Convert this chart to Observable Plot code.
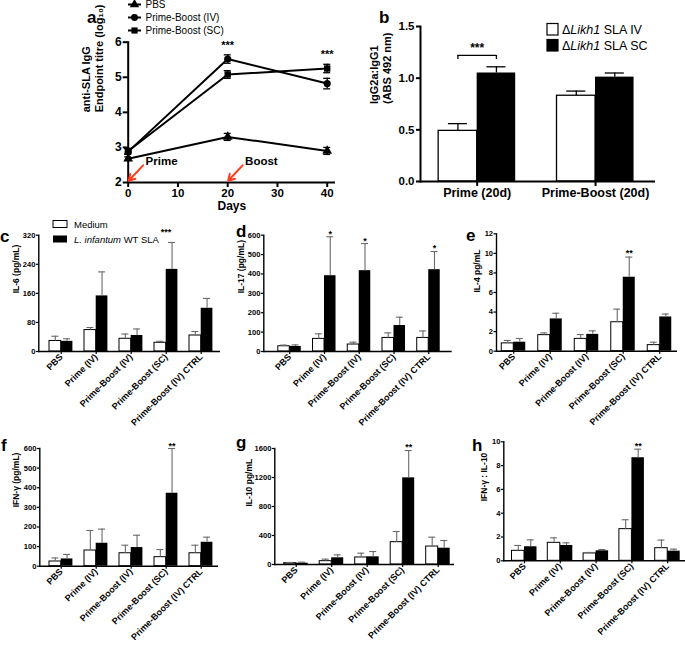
<!DOCTYPE html>
<html><head><meta charset="utf-8">
<script src="https://cdn.jsdelivr.net/npm/d3@7"></script>
<script src="https://cdn.jsdelivr.net/npm/@observablehq/plot@0.6"></script>
<style>
body{margin:0;background:#fff;}
#fig{position:relative;width:685px;height:645px;overflow:hidden;background:#fff;font-family:"Liberation Sans",Arial,Helvetica,sans-serif;}
</style></head><body><div id="fig"></div>
<script>
// ---------- Panel a data ----------
const aDays = [0, 20, 40];
const aSeries = ["PBS", "Prime-Boost (IV)", "Prime-Boost (SC)"];
const aPBS = [2.68, 3.30, 2.90];
const aPBSErr = [0.05, 0.10, 0.10];
const aIV = [2.88, 5.52, 4.82];
const aIVErr = [0.08, 0.12, 0.15];
const aSC = [2.90, 5.08, 5.25];
const aSCErr = [0.07, 0.11, 0.12];
const aSig = ["", "***", "***"];
const aEvents = ["Prime", "Boost"];
const aEventDays = [0, 20];
const aXTicks = [0, 10, 20, 30, 40];
const aYTicks = [2, 3, 4, 5, 6];

// ---------- Panel b data ----------
const bGroups = ["Prime (20d)", "Prime-Boost (20d)"];
const bIV = [0.49, 0.83];
const bIVErr = [0.07, 0.045];
const bSC = [1.05, 1.01];
const bSCErr = [0.06, 0.04];
const bYTicks = [0, 0.5, 1.0, 1.5];
const bSig = "***";

// ---------- Panels c-h data ----------
const groups = ["PBS", "Prime (IV)", "Prime-Boost (IV)", "Prime-Boost (SC)", "Prime-Boost (IV) CTRL"];

const il6Medium = [29, 59, 35, 24, 44];
const il6MediumErr = [13, 7, 13, 4, 11];
const il6SLA = [28, 153, 44, 226, 119];
const il6SLAErr = [7, 66, 18, 74, 27];
const il6Sig = ["", "", "", "***", ""];
const il6Ticks = [0, 80, 160, 240, 320];

const il17Medium = [27, 65, 36, 70, 70];
const il17MediumErr = [6, 26, 12, 26, 36];
const il17SLA = [26, 391, 417, 134, 422];
const il17SLAErr = [8, 201, 140, 43, 94];
const il17Sig = ["", "*", "*", "", "*"];
const il17Ticks = [0, 100, 200, 300, 400, 500, 600];

const il4Medium = [0.80, 1.64, 1.26, 2.96, 0.62];
const il4MediumErr = [0.30, 0.23, 0.44, 1.34, 0.30];
const il4SLA = [0.92, 3.30, 1.72, 7.56, 3.50];
const il4SLAErr = [0.38, 0.58, 0.36, 2.06, 0.30];
const il4Sig = ["", "", "", "**", ""];
const il4Ticks = [0, 2, 4, 6, 8, 10, 12];

const ifnMedium = [24, 80, 66, 46, 66];
const ifnMediumErr = [18, 102, 41, 39, 41];
const ifnSLA = [37, 117, 95, 372, 122];
const ifnSLAErr = [23, 72, 63, 228, 26];
const ifnSig = ["", "", "", "**", ""];
const ifnTicks = [0, 100, 200, 300, 400, 500, 600];

const il10Medium = [18, 46, 97, 308, 248];
const il10MediumErr = [10, 28, 59, 147, 129];
const il10SLA = [18, 92, 106, 1195, 225];
const il10SLAErr = [14, 41, 73, 377, 106];
const il10Sig = ["", "", "", "**", ""];
const il10Ticks = [0, 400, 800, 1200, 1600];

const ratioMedium = [0.84, 1.51, 0.62, 2.66, 1.06];
const ratioMediumErr = [0.45, 0.42, 0.08, 0.79, 0.68];
const ratioSLA = [1.18, 1.29, 0.84, 8.66, 0.81];
const ratioSLAErr = [0.58, 0.22, 0.11, 0.72, 0.17];
const ratioSig = ["", "", "", "**", ""];
const ratioTicks = [0, 2, 4, 6, 8, 10];

// ---------- drawing ----------
const FONT = '"Liberation Sans", Arial, Helvetica, sans-serif';
const STYLE = {background: "transparent", overflow: "visible", fontFamily: FONT, color: "black"};
const fig = document.getElementById("fig");
function place(svg, left, top) {
  svg.style.position = "absolute";
  svg.style.left = left + "px";
  svg.style.top = top + "px";
  fig.appendChild(svg);
}

// Panel a
const aRows = [];
[[aPBS, aPBSErr], [aIV, aIVErr], [aSC, aSCErr]].forEach(([v, e], k) =>
  aDays.forEach((d, i) => aRows.push({series: aSeries[k], day: d, v: v[i], e: e[i]})));
const aStars = aDays.map((d, i) => ({day: d, sig: aSig[i],
  top: d3.max(aRows.filter(r => r.day === d), r => r.v + r.e)})).filter(d => d.sig);
const aEv = aEvents.map((label, i) => ({label, day: aEventDays[i]}));

place(Plot.plot({
  width: 345, height: 212, marginLeft: 127.7, marginRight: 10, marginTop: 41.7, marginBottom: 30,
  style: STYLE,
  x: {domain: [0, 40], range: [127.7, 326.7]},
  y: {domain: [2, 6], range: [182, 41.7]},
  symbol: {domain: aSeries, range: ["triangle", "circle", "square"]},
  marks: [
    Plot.ruleX(aRows, {x: "day", y1: d => d.v - d.e, y2: d => d.v + d.e, strokeWidth: 1.3}),
    Plot.ruleY(aRows, {y: d => d.v + d.e, x1: d => d.day - 0.7, x2: d => d.day + 0.7, strokeWidth: 1.3}),
    Plot.ruleY(aRows, {y: d => d.v - d.e, x1: d => d.day - 0.7, x2: d => d.day + 0.7, strokeWidth: 1.3}),
    Plot.line(aRows, {x: "day", y: "v", z: "series", strokeWidth: 2}),
    Plot.dot(aRows, {x: "day", y: "v", symbol: "series", fill: "black", stroke: "none", r: 3.6}),
    Plot.ruleY([2], {strokeWidth: 2}),
    Plot.frame({anchor: "left", strokeWidth: 2}),
    Plot.axisX(aXTicks, {tickSize: 5, tickPadding: 1, fontSize: 11.5, fontWeight: "bold", label: null, strokeWidth: 2}),
    Plot.axisY(aYTicks, {tickSize: 5, tickPadding: 1.5, fontSize: 12, fontWeight: "bold", label: null, strokeWidth: 2}),
    Plot.text(["Days"], {frameAnchor: "bottom", dy: 27, fontSize: 12, fontWeight: "bold"}),
    Plot.text(["anti-SLA IgG\nEndpoint titre (log\u2081\u2080)"], {frameAnchor: "left", rotate: -90, dx: -36, fontSize: 11, fontWeight: "bold", lineHeight: 1.2}),
    Plot.text(aStars, {x: "day", y: "top", text: "sig", dy: -6, lineAnchor: "bottom", fontSize: 11, fontWeight: "bold"}),
    Plot.arrow(aEv, {x1: d => d.day + 3, y1: () => 2.49, x2: d => d.day + 0.1, y2: () => 2.05, stroke: "#ff3c1e", strokeWidth: 2, headLength: 7}),
    Plot.text(aEv, {x: d => d.day + 3.5, y: () => 2.6, text: "label", textAnchor: "start", fontSize: 11.5, fontWeight: "bold"})
  ]
}), 0, 0);

// Panel b
{
  const rows = bGroups.map((g, i) => ({g, iv: bIV[i], ivErr: bIVErr[i], sc: bSC[i], scErr: bSCErr[i]}));
  const S = 118.3, W = 38.5, C = 19, half = S / 2;
  place(Plot.plot({
    width: 345, height: 210, marginLeft: 80, marginRight: 30, marginTop: 26, marginBottom: 29,
    style: STYLE,
    x: {type: "band", domain: bGroups, range: [77.5, 314.2], padding: 0, round: false},
    y: {domain: [0, 1.5], range: [181, 26]},
    marks: [
      Plot.ruleX(rows, {x: "g", y1: "iv", y2: d => d.iv + d.ivErr, dx: -W / 2, strokeWidth: 1.3}),
      Plot.tickY(rows, {x: "g", y: d => d.iv + d.ivErr, insetLeft: half - W / 2 - C / 2, insetRight: half + W / 2 - C / 2, strokeWidth: 1.3}),
      Plot.ruleX(rows, {x: "g", y1: "sc", y2: d => d.sc + d.scErr, dx: W / 2, strokeWidth: 1.3}),
      Plot.tickY(rows, {x: "g", y: d => d.sc + d.scErr, insetLeft: half + W / 2 - C / 2, insetRight: half - W / 2 - C / 2, strokeWidth: 1.3}),
      Plot.barY(rows, {x: "g", y1: 0, y2: "iv", fill: "white", stroke: "black", strokeWidth: 1.3, insetLeft: half - W, insetRight: half}),
      Plot.barY(rows, {x: "g", y1: 0, y2: "sc", fill: "black", insetLeft: half, insetRight: half - W}),
      Plot.tickY([bGroups[0]], {x: d => d, y: () => 1.22, insetLeft: half - W / 2, insetRight: half - W / 2, strokeWidth: 1.3}),
      Plot.ruleX([bGroups[0]], {x: d => d, y1: () => 1.18, y2: () => 1.22, dx: -W / 2, strokeWidth: 1.3}),
      Plot.ruleX([bGroups[0]], {x: d => d, y1: () => 1.18, y2: () => 1.22, dx: W / 2, strokeWidth: 1.3}),
      Plot.text([bSig], {x: () => bGroups[0], y: () => 1.22, dy: -3, lineAnchor: "bottom", fontSize: 12, fontWeight: "bold"}),
      Plot.ruleY([0], {strokeWidth: 2}),
      Plot.frame({anchor: "left", strokeWidth: 2}),
      Plot.axisY(bYTicks, {tickFormat: d3.format(".1f"), tickSize: 4, tickPadding: 2, fontSize: 11.5, fontWeight: "bold", label: null, strokeWidth: 2}),
      Plot.axisX({tickSize: 5, tickPadding: 2, fontSize: 12.5, fontWeight: "bold", label: null, strokeWidth: 2}),
      Plot.text(["IgG2a:IgG1\n(ABS 492 nm)"], {frameAnchor: "left", rotate: -90, dx: -40, fontSize: 11, fontWeight: "bold", lineHeight: 1.2})
    ]
  }), 340, 0);
}

// Panels c-h
function barPanel(p) {
  const n = groups.length;
  const S = (p.range[1] - p.range[0]) / n, W = p.barW, C = 7, half = S / 2;
  const rows = groups.map((g, i) => ({g, med: p.med[i], medErr: p.medErr[i], sla: p.sla[i], slaErr: p.slaErr[i], sig: p.sig[i]}));
  const errColor = "#6a6a6a";
  place(Plot.plot({
    width: p.w, height: p.h, marginLeft: p.ml, marginRight: p.mr, marginTop: p.mt, marginBottom: p.h - p.y0,
    style: STYLE,
    x: {type: "band", domain: groups, range: p.range, padding: 0, round: false},
    y: {domain: [0, p.ticks[p.ticks.length - 1]], range: [p.y0, p.mt]},
    marks: [
      Plot.barY(rows, {x: "g", y1: 0, y2: "med", fill: "white", stroke: "black", strokeWidth: 1, insetLeft: half - W, insetRight: half}),
      Plot.barY(rows, {x: "g", y1: 0, y2: "sla", fill: "black", insetLeft: half, insetRight: half - W}),
      Plot.ruleX(rows, {x: "g", y1: "med", y2: d => d.med + d.medErr, dx: -W / 2, stroke: errColor, strokeWidth: 1.1}),
      Plot.tickY(rows, {x: "g", y: d => d.med + d.medErr, insetLeft: half - W / 2 - C / 2, insetRight: half + W / 2 - C / 2, stroke: errColor, strokeWidth: 1.1}),
      Plot.ruleX(rows, {x: "g", y1: "sla", y2: d => d.sla + d.slaErr, dx: W / 2, stroke: errColor, strokeWidth: 1.1}),
      Plot.tickY(rows, {x: "g", y: d => d.sla + d.slaErr, insetLeft: half + W / 2 - C / 2, insetRight: half - W / 2 - C / 2, stroke: errColor, strokeWidth: 1.1}),
      Plot.text(rows.filter(d => d.sig), {x: "g", y: d => d.sla + d.slaErr, text: "sig", dx: W / 2 + (p.starDx || 0), dy: p.starDy, lineAnchor: "bottom", fontSize: 9, fontWeight: "bold"}),
      Plot.ruleY([0], {strokeWidth: 1.4}),
      Plot.frame({anchor: "left", strokeWidth: 1.4}),
      Plot.axisY(p.ticks, {tickFormat: d3.format("d"), tickSize: 2.5, tickPadding: 1, fontSize: 7.5, fontWeight: "bold", label: null, strokeWidth: 1.2}),
      Plot.axisX({tickSize: 3, tickPadding: 1, tickRotate: -45, fontSize: 9, fontWeight: "bold", label: null, strokeWidth: 1.2}),
      Plot.text([p.title], {frameAnchor: "left", rotate: -90, dx: p.titleDx, fontSize: 8.5, fontWeight: "bold"})
    ]
  }), p.left, p.top);
}

barPanel({left: 0, top: 200, w: 228, h: 235, ml: 38.3, mr: 8, mt: 34.7, y0: 151, range: [43.2, 218.2], barW: 11.7,
  med: il6Medium, medErr: il6MediumErr, sla: il6SLA, slaErr: il6SLAErr, sig: il6Sig, ticks: il6Ticks,
  title: "IL-6 (pg/mL)", titleDx: -23, starDy: -7, starDx: -6});
barPanel({left: 225, top: 200, w: 230, h: 235, ml: 38.3, mr: 3.3, mt: 34.7, y0: 151, range: [46.9, 220.6], barW: 11.5,
  med: il17Medium, medErr: il17MediumErr, sla: il17SLA, slaErr: il17SLAErr, sig: il17Sig, ticks: il17Ticks,
  title: "IL-17 (pg/mL)", titleDx: -23, starDy: 0});
barPanel({left: 455, top: 200, w: 230, h: 235, ml: 41, mr: 8, mt: 33.3, y0: 150.7, range: [40, 222.5], barW: 12,
  med: il4Medium, medErr: il4MediumErr, sla: il4SLA, slaErr: il4SLAErr, sig: il4Sig, ticks: il4Ticks,
  title: "IL-4 pg/mL", titleDx: -19, starDy: -1});
barPanel({left: 0, top: 420, w: 228, h: 225, ml: 39.3, mr: 10, mt: 28, y0: 145.7, range: [43.2, 218.2], barW: 11.7,
  med: ifnMedium, medErr: ifnMediumErr, sla: ifnSLA, slaErr: ifnSLAErr, sig: ifnSig, ticks: ifnTicks,
  title: "IFN-\u03b3 (pg/mL)", titleDx: -24, starDy: 0});
barPanel({left: 225, top: 420, w: 230, h: 225, ml: 49.3, mr: 1, mt: 28, y0: 144, range: [52.95, 230.45], barW: 12,
  med: il10Medium, medErr: il10MediumErr, sla: il10SLA, slaErr: il10SLAErr, sig: il10Sig, ticks: il10Ticks,
  title: "IL-10 pg/mL", titleDx: -26, starDy: -1});
barPanel({left: 455, top: 420, w: 230, h: 225, ml: 48.3, mr: 0, mt: 21.3, y0: 140.3, range: [51.1, 230.1], barW: 12.5,
  med: ratioMedium, medErr: ratioMediumErr, sla: ratioSLA, slaErr: ratioSLAErr, sig: ratioSig, ticks: ratioTicks,
  title: "IFN-\u03b3 : IL-10", titleDx: -20, starDy: 0});

// ---------- overlay: panel letters and legends ----------
const ov = d3.create("svg").attr("width", 685).attr("height", 645)
  .style("position", "absolute").style("left", "0px").style("top", "0px")
  .style("font-family", FONT).style("overflow", "visible");
const letters = [["a", 87, 22.5], ["b", 379, 23], ["c", 0, 242], ["d", 236, 237], ["e", 466, 241], ["f", 1, 451], ["g", 236, 448], ["h", 472, 451]];
ov.selectAll("text.letter").data(letters).join("text").attr("class", "letter")
  .attr("x", d => d[1]).attr("y", d => d[2]).attr("font-size", 17).attr("font-weight", "bold").text(d => d[0]);

// legend a
const symTypes = [d3.symbolTriangle, d3.symbolCircle, d3.symbolSquare];
aSeries.forEach((s, i) => {
  const cy = 4.5 + i * 13;
  ov.append("line").attr("x1", 128).attr("x2", 141).attr("y1", cy).attr("y2", cy).attr("stroke", "black").attr("stroke-width", 2);
  ov.append("path").attr("d", d3.symbol(symTypes[i], 38)()).attr("transform", `translate(134.5,${cy})`).attr("fill", "black");
  ov.append("text").attr("x", 145.5).attr("y", cy + 3.5).attr("font-size", 10).text(s);
});

// legend b
[["IV", "white"], ["SC", "black"]].forEach(([k, fill], i) => {
  const y = 23.5 + i * 16;
  ov.append("rect").attr("x", 547).attr("y", y).attr("width", 11).attr("height", 11.5).attr("fill", fill).attr("stroke", "black").attr("stroke-width", 1.2);
  const t = ov.append("text").attr("x", 562).attr("y", y + 10.5).attr("font-size", 12.5);
  t.append("tspan").text("\u0394");
  t.append("tspan").attr("font-style", "italic").text("Likh1");
  t.append("tspan").text(" SLA " + k);
});

// legend c
ov.append("rect").attr("x", 53).attr("y", 220.5).attr("width", 14).attr("height", 7).attr("fill", "white").attr("stroke", "black").attr("stroke-width", 1);
ov.append("text").attr("x", 74).attr("y", 228.3).attr("font-size", 9.5).text("Medium");
ov.append("rect").attr("x", 53).attr("y", 235.5).attr("width", 14).attr("height", 7).attr("fill", "black");
{
  const t = ov.append("text").attr("x", 74).attr("y", 242.5).attr("font-size", 9.5);
  t.append("tspan").attr("font-style", "italic").text("L. infantum");
  t.append("tspan").text(" WT SLA");
}
fig.appendChild(ov.node());
</script></body></html>
